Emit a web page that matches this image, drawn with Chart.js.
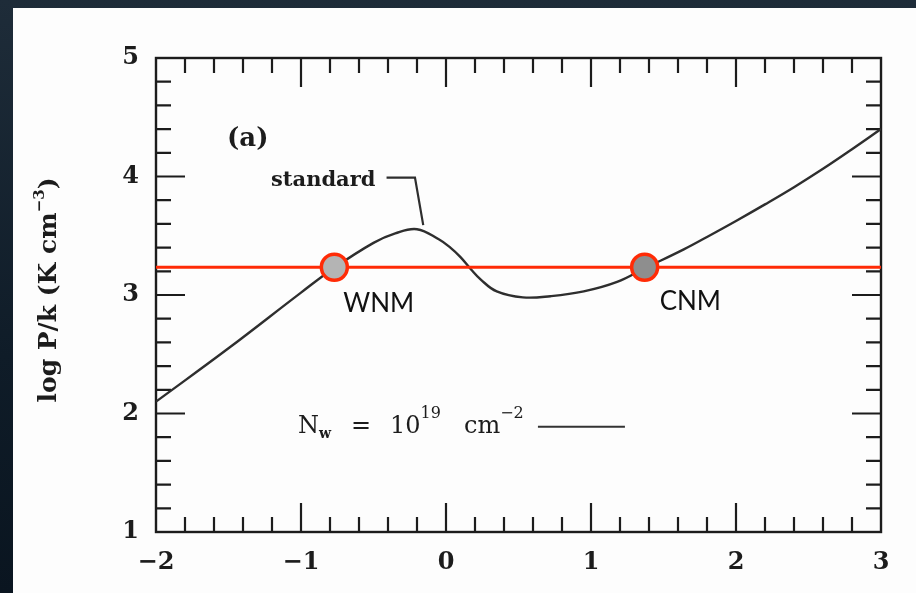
<!DOCTYPE html>
<html>
<head>
<meta charset="utf-8">
<script src="https://cdn.jsdelivr.net/npm/chart.js@4.4.1/dist/chart.umd.min.js"></script>
<style>
  html, body { margin: 0; padding: 0; width: 916px; height: 593px; overflow: hidden; }
  body { background: linear-gradient(to bottom, #1e2c39 0%, #0f1c28 60%, #0a1520 100%); position: relative; }
  #paper { position: absolute; left: 13px; top: 8px; right: 0; bottom: 0; background: #fdfdfd; }
  #wrap { position: absolute; left: 0; top: 0; width: 916px; height: 593px; }
</style>
</head>
<body>
<div id="paper"></div>
<div id="wrap"><canvas id="chart" width="916" height="593"></canvas></div>
<script>
// curve "standard": log n vs log P/k
const logN = [-2, -1.5, -1.0, -0.77, -0.5, -0.35, -0.2, -0.05, 0.03, 0.1, 0.17, 0.24, 0.35, 0.53, 0.72, 0.95, 1.18, 1.37, 1.64, 1.8, 2.0, 2.2, 2.4, 2.6, 2.8, 3.0];
const logP = [2.10, 2.55, 3.02, 3.23, 3.44, 3.52, 3.555, 3.47, 3.40, 3.32, 3.22, 3.13, 3.03, 2.98, 2.99, 3.03, 3.11, 3.225, 3.385, 3.49, 3.625, 3.765, 3.91, 4.065, 4.23, 4.40];

// equilibrium pressure and the two stable phases
const pEq = 3.234;
const phaseNames = ["WNM", "CNM"];
const phaseN = [-0.77, 1.37];
const phaseFill = ["#b4b4b4", "#8e8e8e"];

// leader from the "standard" label to the curve
const leaderX = [-0.41, -0.214, -0.157];
const leaderY = [3.99, 3.99, 3.59];

// legend sample segment next to N_w
const sampleX = [0.634, 1.234];
const sampleY = 1.889;

const xTicks = [-2, -1, 0, 1, 2, 3];
const yTicks = [1, 2, 3, 4, 5];

const ink = "#1c1c1c";
const red = "#ff2b06";
const serifB = '"DejaVu Serif", "Liberation Serif", serif';

const fmt = v => (v < 0 ? "\u2212" + Math.abs(v) : String(v));

// draw a run of text pieces (for super/subscripts)
function drawRun(ctx, x, y, parts) {
  let cx = x;
  parts.forEach(p => {
    ctx.font = p.font;
    if (p.x !== undefined) cx = p.x;
    ctx.fillText(p.t, cx, y + (p.dy || 0));
    cx += ctx.measureText(p.t).width;
  });
}

const frame = {
  id: "frame",
  beforeDatasetsDraw(chart) {
    const { ctx, chartArea: a, scales: { x, y } } = chart;
    ctx.save();
    ctx.strokeStyle = ink;
    ctx.lineWidth = 2.4;
    ctx.strokeRect(a.left, a.top, a.right - a.left, a.bottom - a.top);
    ctx.lineWidth = 2.2;
    ctx.beginPath();
    // x ticks, every 0.2, inside on top and bottom
    for (let i = 1; i < 25; i++) {
      const v = -2 + i * 0.2;
      const px = x.getPixelForValue(v);
      const len = i % 5 === 0 ? 29 : 15;
      ctx.moveTo(px, a.bottom); ctx.lineTo(px, a.bottom - len);
      ctx.moveTo(px, a.top); ctx.lineTo(px, a.top + len);
    }
    // y ticks, every 0.2, inside on left and right
    for (let i = 1; i < 20; i++) {
      const v = 1 + i * 0.2;
      const py = y.getPixelForValue(v);
      const len = i % 5 === 0 ? 29 : 15;
      ctx.moveTo(a.left, py); ctx.lineTo(a.left + len, py);
      ctx.moveTo(a.right, py); ctx.lineTo(a.right - len, py);
    }
    ctx.stroke();

    // sample segment for N_w
    ctx.lineWidth = 2;
    ctx.strokeStyle = "#333";
    ctx.beginPath();
    ctx.moveTo(x.getPixelForValue(sampleX[0]), y.getPixelForValue(sampleY));
    ctx.lineTo(x.getPixelForValue(sampleX[1]), y.getPixelForValue(sampleY));
    ctx.stroke();

    ctx.fillStyle = ink;
    ctx.textBaseline = "alphabetic";
    ctx.textAlign = "left";
    // panel label
    ctx.font = "bold 26px " + serifB;
    ctx.fillText("(a)", 227, 146);
    // curve label
    ctx.font = "bold 21px " + serifB;
    ctx.fillText("standard", 271, 186);
    // column density note
    const f = "24px " + serifB, fs = "bold 14px " + serifB, fsup = "16px " + serifB;
    drawRun(ctx, 298, 433, [
      { t: "N", font: f },
      { t: "w", font: fs, dy: 5 },
      { t: "=", font: f, x: 351 },
      { t: "10", font: f, x: 390 },
      { t: "19", font: fsup, dy: -15 },
      { t: "cm", font: f, x: 464 },
      { t: "\u22122", font: fsup, dy: -15 }
    ]);

    // y axis title
    ctx.save();
    ctx.translate(56, 290);
    ctx.rotate(-Math.PI / 2);
    const tf = "bold 25px " + serifB, tsup = "bold 15px " + serifB;
    ctx.font = tf;
    const w1 = ctx.measureText("log P/k (K cm").width;
    ctx.font = tsup;
    const w2 = ctx.measureText("\u22123").width;
    ctx.font = tf;
    const w3 = ctx.measureText(")").width;
    drawRun(ctx, -(w1 + w2 + w3) / 2, 0, [
      { t: "log P/k (K cm", font: tf },
      { t: "\u22123", font: tsup, dy: -12 },
      { t: ")", font: tf }
    ]);
    ctx.restore();
    ctx.restore();
  },
  afterDatasetsDraw(chart) {
    const { ctx, scales: { x, y } } = chart;
    const dx = [9, 15], dy = [45, 43];
    ctx.save();
    ctx.fillStyle = "#111";
    ctx.font = '26px "Lato", "Noto Sans", sans-serif';
    ctx.textBaseline = "alphabetic";
    ctx.textAlign = "left";
    phaseNames.forEach((name, i) => {
      const px = x.getPixelForValue(phaseN[i]);
      const py = y.getPixelForValue(pEq);
      ctx.fillText(name, px + dx[i], py + dy[i]);
    });
    ctx.restore();
  }
};

new Chart(document.getElementById("chart"), {
  type: "scatter",
  data: {
    datasets: [
      {
        data: phaseN.map((v, i) => ({ x: v, y: pEq })),
        pointRadius: 13,
        pointHoverRadius: 13,
        pointBorderWidth: 3.5,
        pointBorderColor: red,
        pointBackgroundColor: phaseFill,
        showLine: false,
        order: 0
      },
      {
        data: [{ x: -2, y: pEq }, { x: 3, y: pEq }],
        showLine: true,
        borderColor: red,
        borderWidth: 3.2,
        pointRadius: 0,
        order: 1
      },
      {
        data: logN.map((v, i) => ({ x: v, y: logP[i] })),
        showLine: true,
        borderColor: "#2e2e2e",
        borderWidth: 2.4,
        pointRadius: 0,
        tension: 0.4,
        order: 2
      },
      {
        data: leaderX.map((v, i) => ({ x: v, y: leaderY[i] })),
        showLine: true,
        borderColor: "#2e2e2e",
        borderWidth: 2.2,
        pointRadius: 0,
        order: 3
      }
    ]
  },
  options: {
    responsive: false,
    animation: false,
    events: [],
    layout: { padding: { left: 0, right: 35, top: 58, bottom: 0 } },
    plugins: { legend: { display: false }, tooltip: { enabled: false } },
    scales: {
      x: {
        type: "linear",
        min: -2, max: 3,
        afterBuildTicks: s => { s.ticks = xTicks.map(v => ({ value: v })); },
        afterFit: s => { s.height = 61; },
        grid: { display: false, drawTicks: false },
        border: { display: false },
        ticks: { callback: fmt, color: ink, padding: 16, maxRotation: 0, font: { family: serifB, size: 24, weight: "bold" } }
      },
      y: {
        type: "linear",
        min: 1, max: 5,
        afterBuildTicks: s => { s.ticks = yTicks.map(v => ({ value: v })); },
        afterFit: s => { s.width = 156; },
        grid: { display: false, drawTicks: false },
        border: { display: false },
        ticks: { callback: fmt, color: ink, padding: 17, font: { family: serifB, size: 24, weight: "bold" } }
      }
    }
  },
  plugins: [frame]
});
</script>
</body>
</html>
